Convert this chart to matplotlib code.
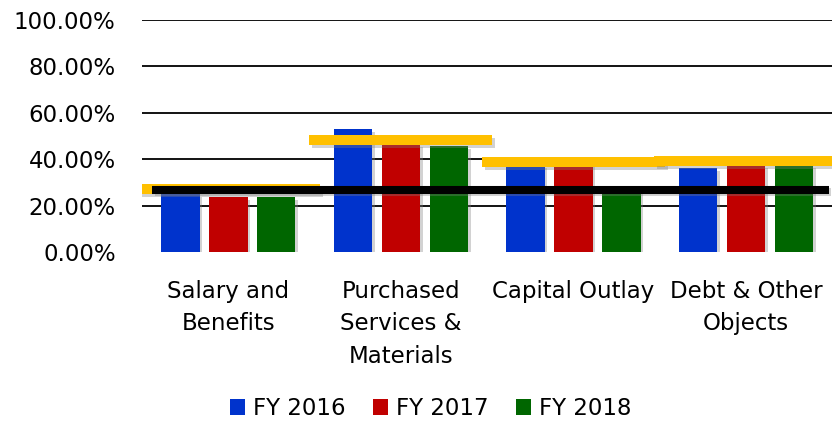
import numpy as np
import matplotlib
matplotlib.use("Agg")
import matplotlib.pyplot as plt
import matplotlib.patheffects as pe

categories = ["Salary and\nBenefits", "Purchased\nServices &\nMaterials",
              "Capital Outlay", "Debt & Other\nObjects"]
series_names = ["FY 2016", "FY 2017", "FY 2018"]
fy2016 = [25.0, 53.0, 37.5, 36.0]
fy2017 = [23.5, 46.5, 41.0, 37.5]
fy2018 = [23.5, 45.5, 27.0, 37.5]
target = [27.0, 48.2, 38.9, 39.1]   # yellow markers per category
overall = 26.9                        # black line across chart
yticks = [0, 20, 40, 60, 80, 100]

colors = ["#0033CC", "#C00000", "#006600"]

plt.rcParams["font.family"] = "DejaVu Sans"
fig = plt.figure(figsize=(8.33, 4.21), dpi=100)
ax = fig.add_axes([0.1705, 0.4014, 0.8285, 0.5511])

x = np.arange(len(categories))
width = 0.223
step = 0.278
all_bars = []
for i, (vals, name) in enumerate(zip([fy2016, fy2017, fy2018], series_names)):
    bars = ax.bar(x + (i - 1) * step, vals, width, color=colors[i], label=name, zorder=3)
    all_bars.extend(bars)

line_shadow = [pe.SimpleLineShadow(offset=(2, -2), shadow_color="#808080", alpha=0.35), pe.Normal()]
half = 0.53
for xi, t in zip(x, target):
    ax.plot([xi - half, xi + half], [t, t], color="#FFC000", lw=7.2,
            solid_capstyle="butt", zorder=4, path_effects=line_shadow)

ax.axhline(overall, xmin=0.015, xmax=0.995, color="black", lw=5.8,
           solid_capstyle="butt", zorder=5, path_effects=line_shadow)

for y in yticks[1:]:
    ax.axhline(y, color="black", lw=1.3, zorder=1)

ax.set_xlim(-0.5, len(categories) - 0.5)
ax.set_ylim(0, 100)
ax.set_yticks(yticks)
ax.set_yticklabels([f"{v:.2f}%" for v in yticks], fontsize=16.5)
ax.set_xticks(x)
ax.set_xticklabels(categories, fontsize=16.5, linespacing=1.53)
ax.tick_params(axis="y", length=0, pad=19)
ax.tick_params(axis="x", length=0, pad=20)
for s in ax.spines.values():
    s.set_visible(False)

fig.legend(loc="center", bbox_to_anchor=(0.517, 0.0297), ncol=3, frameon=False,
           fontsize=16.5, handlelength=0.65, handleheight=0.65,
           handletextpad=0.35, columnspacing=1.2)

# shadows added after the legend so legend keys stay flat
bar_shadow = [pe.SimplePatchShadow(offset=(2, -2), shadow_rgbFace="#808080", alpha=0.35), pe.Normal()]
for b in all_bars:
    b.set_path_effects(bar_shadow)

fig.savefig("out.png", dpi=100)
